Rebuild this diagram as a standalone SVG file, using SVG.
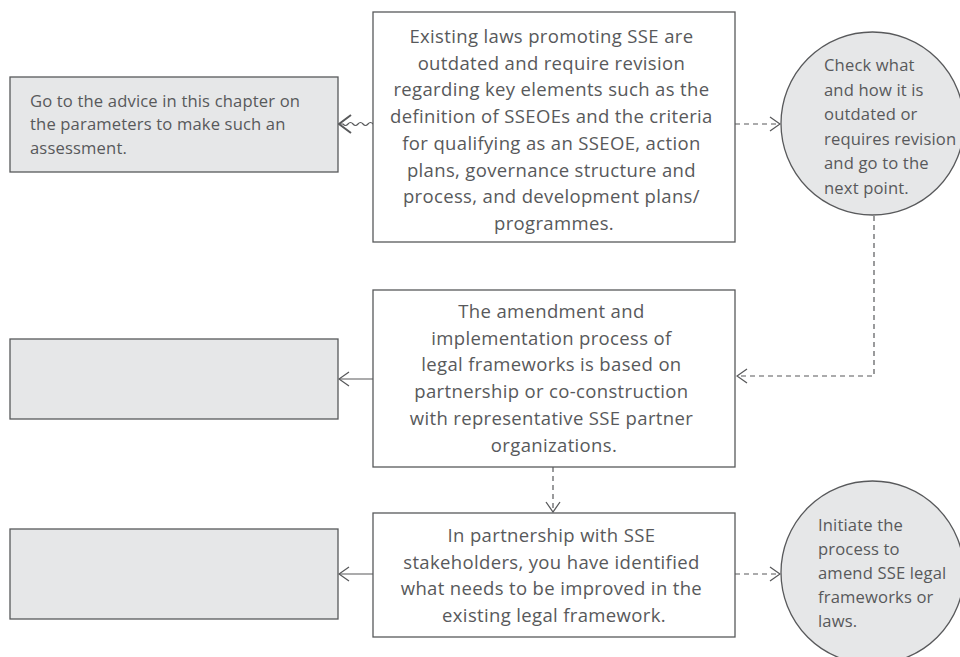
<svg xmlns="http://www.w3.org/2000/svg" width="960" height="657" viewBox="0 0 960 657">
<style>
.box{fill:#ffffff;stroke:#58595b;stroke-width:1.3}
.grey{fill:#e6e7e8;stroke:#58595b;stroke-width:1.3}
.t{font-family:"Open Sans","Liberation Sans",Arial,sans-serif;fill:#58595b}
.big{font-size:18.5px;letter-spacing:0.35px;text-anchor:middle}
.small{font-size:16.6px;letter-spacing:0.15px}
.line{fill:none;stroke:#58595b;stroke-width:1.2}
.dash{fill:none;stroke:#58595b;stroke-width:1.2;stroke-dasharray:5 4}
</style>
<defs>
<marker id="arr" viewBox="0 0 12 16" refX="11" refY="8" markerWidth="12" markerHeight="16" markerUnits="userSpaceOnUse" orient="auto">
<path d="M1,1 L11,8 L1,15" fill="none" stroke="#58595b" stroke-width="1.3"/>
</marker>
<marker id="arrB" viewBox="0 0 14 20" refX="13" refY="10" markerWidth="14" markerHeight="20" markerUnits="userSpaceOnUse" orient="auto">
<path d="M1,1 L13,10 L1,19" fill="none" stroke="#58595b" stroke-width="2"/>
</marker>
</defs>

<g id="connectors">
<path class="line" d="M373,124 q-2.5,-3 -5,0 t-5,0 t-5,0 t-5,0 t-5,0 t-5,0 L339,124" marker-end="url(#arrB)"/>
<path class="dash" d="M735,124 L780,124" marker-end="url(#arr)"/>
<path class="dash" d="M874,216 L874,376 L737,376" marker-end="url(#arr)"/>
<path class="line" d="M373,379 L339,379" marker-end="url(#arr)"/>
<path class="dash" d="M553,467 L553,512" marker-end="url(#arr)"/>
<path class="line" d="M373,574 L339,574" marker-end="url(#arr)"/>
<path class="dash" d="M735,574 L780,574" marker-end="url(#arr)"/>
</g>

<g id="nodeA">
<rect class="box" x="373" y="12" width="362" height="230"/>
<text class="t big">
<tspan x="554" y="43">Existing laws promoting SSE are</tspan>
<tspan x="554" y="69.7">outdated and require revision</tspan>
<tspan x="554" y="96.4">regarding key elements such as the</tspan>
<tspan x="554" y="123.1">definition of SSEOEs and the criteria</tspan>
<tspan x="554" y="149.8">for qualifying as an SSEOE, action</tspan>
<tspan x="554" y="176.5">plans, governance structure and</tspan>
<tspan x="554" y="203.2">process, and development plans/</tspan>
<tspan x="554" y="229.9">programmes.</tspan>
</text>
</g>

<g id="left1">
<rect class="grey" x="10" y="77" width="328" height="95"/>
<text class="t small">
<tspan x="30" y="107">Go to the advice in this chapter on</tspan>
<tspan x="30" y="130.3">the parameters to make such an</tspan>
<tspan x="30" y="153.6">assessment.</tspan>
</text>
</g>

<g id="circle1">
<circle class="grey" cx="872.5" cy="123.5" r="91.5"/>
<text class="t small">
<tspan x="824" y="71">Check what</tspan>
<tspan x="824" y="95.5">and how it is</tspan>
<tspan x="824" y="120">outdated or</tspan>
<tspan x="824" y="144.5">requires revision</tspan>
<tspan x="824" y="169">and go to the</tspan>
<tspan x="824" y="193.5">next point.</tspan>
</text>
</g>

<g id="nodeB">
<rect class="box" x="373" y="290" width="362" height="177"/>
<text class="t big">
<tspan x="554" y="318">The amendment and</tspan>
<tspan x="554" y="344.7">implementation process of</tspan>
<tspan x="554" y="371.4">legal frameworks is based on</tspan>
<tspan x="554" y="398.1">partnership or co-construction</tspan>
<tspan x="554" y="424.8">with representative SSE partner</tspan>
<tspan x="554" y="451.5">organizations.</tspan>
</text>
</g>

<g id="left2">
<rect class="grey" x="10" y="339" width="328" height="80"/>
</g>

<g id="nodeC">
<rect class="box" x="373" y="513" width="362" height="124"/>
<text class="t big">
<tspan x="554" y="542">In partnership with SSE</tspan>
<tspan x="554" y="568.7">stakeholders, you have identified</tspan>
<tspan x="554" y="595.4">what needs to be improved in the</tspan>
<tspan x="554" y="622.1">existing legal framework.</tspan>
</text>
</g>

<g id="left3">
<rect class="grey" x="10" y="529" width="328" height="90"/>
</g>

<g id="circle2">
<circle class="grey" cx="872.5" cy="572.5" r="91.5"/>
<text class="t small">
<tspan x="818" y="530.5">Initiate the</tspan>
<tspan x="818" y="554.5">process to</tspan>
<tspan x="818" y="578.5">amend SSE legal</tspan>
<tspan x="818" y="602.5">frameworks or</tspan>
<tspan x="818" y="626.5">laws.</tspan>
</text>
</g>
</svg>
